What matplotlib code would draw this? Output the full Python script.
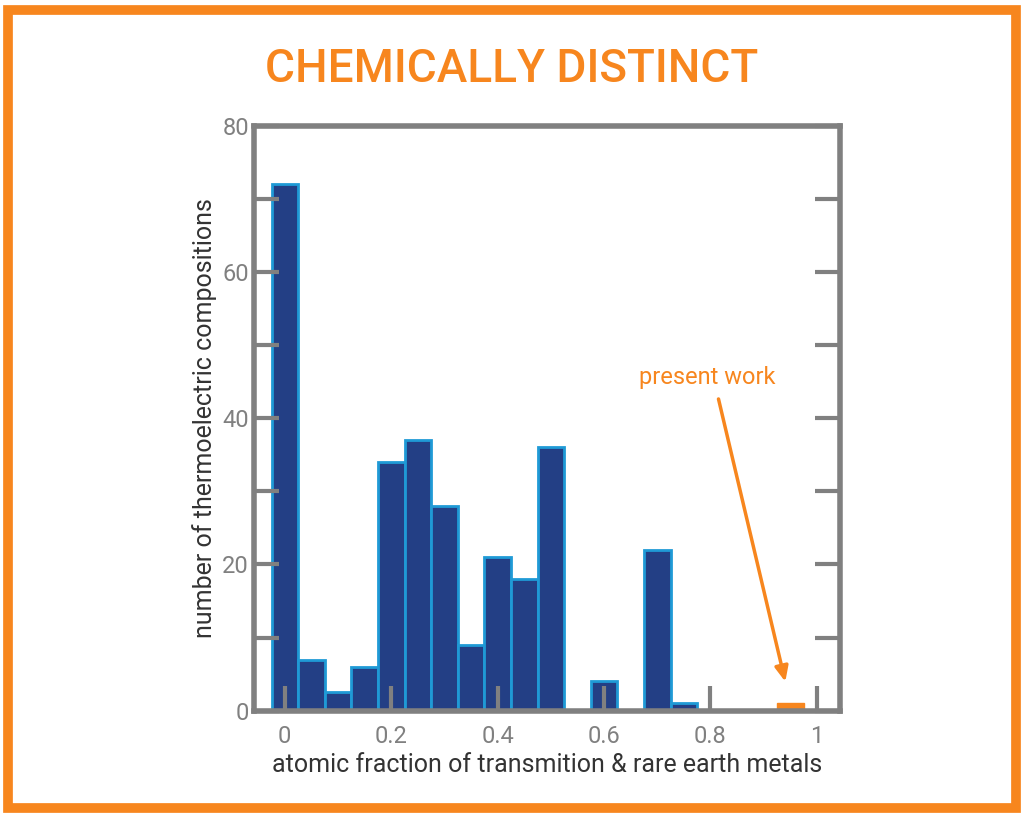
import matplotlib
matplotlib.use("Agg")
import matplotlib.pyplot as plt
from matplotlib.patches import Rectangle

bin_centers = [0.0, 0.05, 0.1, 0.15, 0.2, 0.25, 0.3, 0.35, 0.4, 0.45, 0.5, 0.55, 0.6, 0.65, 0.7, 0.75]
counts = [72, 7, 2.5, 6, 34, 37, 28, 9, 21, 18, 36, 0, 4, 0, 22, 1]
present_x = [0.95]
present_count = [1]
xticks = [0, 0.2, 0.4, 0.6, 0.8, 1]
xticklabels = ["0", "0.2", "0.4", "0.6", "0.8", "1"]
yticks = [0, 20, 40, 60, 80]

orange = "#f7861e"
gray = "#808080"
plt.rcParams["font.family"] = "Roboto"

fig = plt.figure(figsize=(10.24, 8.16), dpi=100)
fig.patches.append(Rectangle((0.008, 0.01), 0.984, 0.978, transform=fig.transFigure,
                             fill=False, edgecolor=orange, linewidth=7))
fig.text(0.5, 0.915, "CHEMICALLY DISTINCT", color=orange, fontsize=33,
         fontweight="medium", ha="center", va="center")

ax = fig.add_axes([0.248, 0.129, 0.572, 0.717])
ax.bar(bin_centers, counts, width=0.05, color="#233f85", edgecolor="#1f9ad6", linewidth=2)
ax.bar(present_x, present_count, width=0.05, color=orange, edgecolor=orange, linewidth=1)
ax.set_xlim(-0.058, 1.043)
ax.set_ylim(0, 80)
ax.set_xticks(xticks)
ax.set_xticklabels(xticklabels)
ax.set_yticks(yticks)
ax.set_yticks(range(10, 80, 20), minor=True)
ax.tick_params(axis="both", which="both", direction="in", color=gray, width=3,
               labelcolor=gray, labelsize=17, right=True)
ax.tick_params(axis="y", which="major", length=18)
ax.tick_params(axis="y", which="minor", length=18)
ax.tick_params(axis="x", length=18, pad=10)
for s in ax.spines.values():
    s.set_color(gray)
    s.set_linewidth(4)
ax.set_xlabel("atomic fraction of transmition & rare earth metals", fontsize=18, color="#333333")
ax.set_ylabel("number of thermoelectric compositions", fontsize=18, color="#333333")
ax.annotate("", xy=(0.942, 3.6), xytext=(0.814, 43),
            arrowprops=dict(arrowstyle="-|>,head_width=0.4,head_length=0.9", color=orange, lw=2.5))
ax.text(0.795, 45.5, "present work", color=orange, fontsize=17, ha="center", va="center")
fig.savefig("out.png", dpi=100)
